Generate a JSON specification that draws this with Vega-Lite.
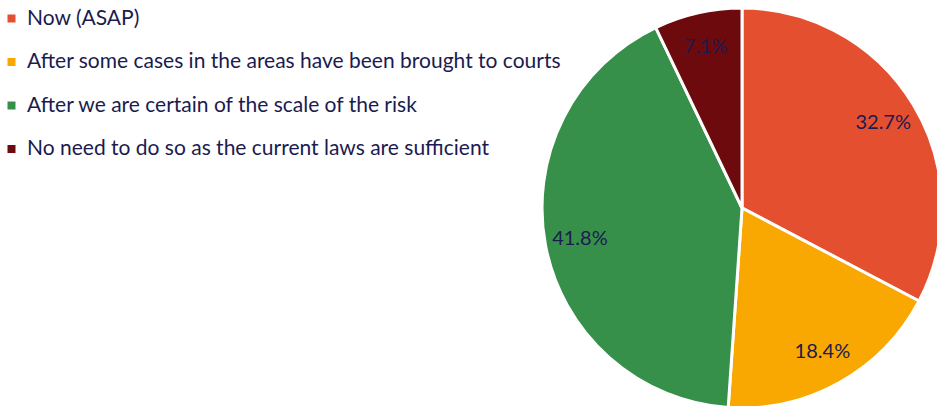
{
  "$schema": "https://vega.github.io/schema/vega-lite/v6.json",
  "autosize": "none",
  "width": 400,
  "height": 400,
  "padding": {"left": 542, "top": 8, "right": 0, "bottom": 0},
  "background": "white",
  "config": {"view": {"stroke": null}, "font": "Lato"},
  "data": {
    "values": [
      {"answer": "Now (ASAP)", "share": 0.327, "k": 1},
      {"answer": "After some cases in the areas have been brought to courts", "share": 0.184, "k": 2},
      {"answer": "After we are certain of the scale of the risk", "share": 0.418, "k": 3},
      {"answer": "No need to do so as the current laws are sufficient", "share": 0.071, "k": 4}
    ]
  },
  "encoding": {
    "theta": {"field": "share", "type": "quantitative", "stack": true},
    "order": {"field": "k", "type": "quantitative"}
  },
  "layer": [
    {
      "mark": {"type": "arc", "radius": 200, "stroke": "white", "strokeWidth": 3},
      "encoding": {
        "color": {
          "field": "answer",
          "type": "nominal",
          "sort": null,
          "scale": {
            "domain": ["Now (ASAP)", "After some cases in the areas have been brought to courts", "After we are certain of the scale of the risk", "No need to do so as the current laws are sufficient"],
            "range": ["#E4502F", "#F9A801", "#37904A", "#6D0A0E"]
          },
          "legend": {
            "title": null,
            "orient": "none",
            "legendX": -541,
            "legendY": 0,
            "symbolType": "square",
            "symbolSize": 64,
            "symbolStrokeWidth": 0,
            "labelFont": "Lato",
            "labelFontSize": 21,
            "labelColor": "#1B1B50",
            "labelLimit": 700,
            "labelOffset": 5,
            "rowPadding": 21.5
          }
        }
      }
    },
    {
      "mark": {"type": "text", "radius": 165, "fontSize": 20, "font": "Lato", "color": "#1B1B50"},
      "encoding": {
        "text": {"field": "share", "type": "quantitative", "format": ".1%"}
      }
    }
  ]
}
